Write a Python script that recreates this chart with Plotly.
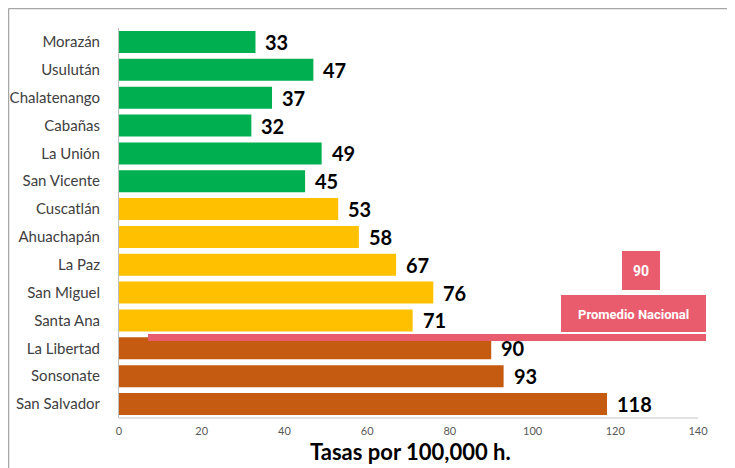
import plotly.graph_objects as go

departamentos = ["Morazán", "Usulután", "Chalatenango", "Cabañas", "La Unión", "San Vicente",
                 "Cuscatlán", "Ahuachapán", "La Paz", "San Miguel", "Santa Ana",
                 "La Libertad", "Sonsonate", "San Salvador"]
tasas = [33, 47, 37, 32, 49, 45, 53, 58, 67, 76, 71, 90, 93, 118]
grupos = ["bajo"] * 6 + ["medio"] * 5 + ["alto"] * 3
colores_grupo = {"bajo": "#00B050", "medio": "#FFC000", "alto": "#C55A11"}
promedio_nacional = 90
x_ticks = [0, 20, 40, 60, 80, 100, 120, 140]

# page has an 8px body margin; figure is sized to fit inside the 735x468 window
OFF = 8
W, H = 735 - OFF, 468 - OFF
L, T = 119 - OFF, 28 - OFF
R = W - (698 - OFF)
B = H - (418 - OFF)
pw, ph = W - L - R, H - T - B

def px_x(p):  # page pixel -> paper
    return (p - OFF - L) / pw

def px_y(p):
    return 1 - (p - OFF - T) / ph

fig = go.Figure()
fig.add_trace(go.Bar(
    y=departamentos, x=tasas, orientation="h",
    marker=dict(color=[colores_grupo[g] for g in grupos], line=dict(width=0)),
    width=0.79, hoverinfo="x+y",
))

annotations = []
for d, v in zip(departamentos, tasas):
    annotations.append(dict(x=v, y=d, xref="x", yref="y", text=f"<b>{v}</b>",
                            showarrow=False, xanchor="left", xshift=8, yshift=0,
                            font=dict(family="Lato, Open Sans, sans-serif", size=20, color="#000000")))

shapes = [
    # frame lines (top and left)
    dict(type="line", xref="paper", yref="paper", x0=px_x(8.5), x1=px_x(735), y0=px_y(8.5), y1=px_y(8.5),
         line=dict(color="#A6A6A6", width=1.5)),
    dict(type="line", xref="paper", yref="paper", x0=px_x(8.5), x1=px_x(8.5), y0=px_y(8.5), y1=px_y(468),
         line=dict(color="#A6A6A6", width=1.5)),
    # promedio nacional band
    dict(type="rect", xref="paper", yref="paper", x0=px_x(148), x1=px_x(706), y0=px_y(334), y1=px_y(341),
         fillcolor="#E95C6E", line=dict(width=0), layer="above"),
    # boxes
    dict(type="rect", xref="paper", yref="paper", x0=px_x(622), x1=px_x(660), y0=px_y(251), y1=px_y(290),
         fillcolor="#E95C6E", line=dict(width=0)),
    dict(type="rect", xref="paper", yref="paper", x0=px_x(561), x1=px_x(706), y0=px_y(295), y1=px_y(332),
         fillcolor="#E95C6E", line=dict(width=0)),
    # x axis baseline
    dict(type="line", xref="paper", yref="paper", x0=0, x1=1, y0=0, y1=0,
         line=dict(color="#D9D9D9", width=1.5)),
]

label_font = dict(family="Liberation Sans Narrow, Roboto, sans-serif", size=13, color="#FFFFFF")
annotations.append(dict(xref="paper", yref="paper", x=px_x(641), y=px_y(270.5), text=f"<b>{promedio_nacional}</b>",
                        showarrow=False, xanchor="center", yanchor="middle",
                        font=dict(family="Liberation Sans Narrow, Roboto, sans-serif", size=14, color="#FFFFFF")))
annotations.append(dict(xref="paper", yref="paper", x=px_x(633.5), y=px_y(314), text="<b>Promedio Nacional</b>",
                        showarrow=False, xanchor="center", yanchor="middle", font=label_font))
annotations.append(dict(xref="paper", yref="paper", x=px_x(410), y=px_y(467), text="<b>Tasas por 100,000 h.</b>",
                        showarrow=False, xanchor="center", yanchor="bottom",
                        font=dict(family="Lato, Open Sans, sans-serif", size=22, color="#000000")))

fig.update_layout(
    width=W, height=H, margin=dict(l=L, r=R, t=T, b=B, autoexpand=False),
    paper_bgcolor="white", plot_bgcolor="white", showlegend=False,
    xaxis=dict(range=[0, 140], tickvals=x_ticks, ticktext=[str(t) for t in x_ticks],
               showgrid=False, zeroline=False, showline=False, ticks="", automargin=False,
               ticklabelstandoff=5,
               tickfont=dict(family="Lato, Open Sans, sans-serif", size=11, color="#595959")),
    yaxis=dict(autorange="reversed", showgrid=False, zeroline=False, automargin=False,
               showline=True, linecolor="#BFBFBF", linewidth=1, ticks="",
               ticklabelstandoff=15,
               tickfont=dict(family="Lato, Open Sans, sans-serif", size=15, color="#404040")),
    annotations=annotations, shapes=shapes,
)

fig.write_html("out.html")
